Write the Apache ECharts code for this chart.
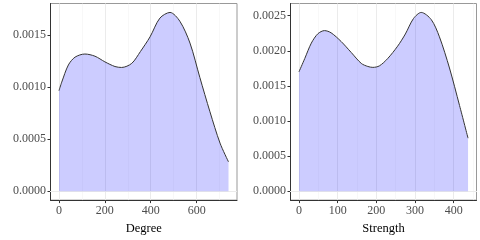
<!DOCTYPE html>
<html>
<head>
<meta charset="utf-8">
<script src="https://cdn.jsdelivr.net/npm/echarts@6/dist/echarts.min.js"></script>
<style>html,body{margin:0;padding:0;background:#fff}#c{width:480px;height:240px}</style>
</head>
<body>
<div id="c"></div>
<script>
// Left panel: Degree density
const degreeX = [0, 12, 41, 70, 113, 157, 200, 244, 273, 317, 355, 397, 440, 484, 527, 571, 614, 658, 702, 739];
const degreeY = [0.000964, 0.001046, 0.001211, 0.001286, 0.001316, 0.001295, 0.001241, 0.001196, 0.001187, 0.001226, 0.00134, 0.001481, 0.001661, 0.001715, 0.00163, 0.001421, 0.001091, 0.000762, 0.000461, 0.000281];
// Right panel: Strength density
const strengthX = [0, 15, 32, 49, 66, 83, 109, 135, 161, 178, 191, 208, 229, 255, 275, 296, 316, 342, 363, 389, 415, 437];
const strengthY = [0.0017, 0.00189, 0.00211, 0.002244, 0.002288, 0.002257, 0.002133, 0.001977, 0.001821, 0.001777, 0.001764, 0.001786, 0.001888, 0.002066, 0.00224, 0.00246, 0.002547, 0.002444, 0.0022, 0.001755, 0.001221, 0.000755];
// Tick labels
const degreeXTicks = [0, 200, 400, 600];
const degreeXMinor = [100, 300, 500, 700];
const degreeYTicks = [0, 0.0005, 0.0010, 0.0015];
const degreeYMinor = [0.00025, 0.00075, 0.00125, 0.00175];
const strengthXTicks = [0, 100, 200, 300, 400];
const strengthXMinor = [50, 150, 250, 350, 450];
const strengthYTicks = [0, 0.0005, 0.0010, 0.0015, 0.0020, 0.0025];
const strengthYMinor = [0.00025, 0.00075, 0.00125, 0.00175, 0.00225];
const xTitles = ['Degree', 'Strength'];

const FONT = 'Liberation Serif';
const chart = echarts.init(document.getElementById('c'), null, {renderer: 'canvas'});

function expand(arr, f) {
  const mn = Math.min(...arr), mx = Math.max(...arr);
  const pad = (mx - mn) * f;
  return [mn - pad, mx + pad];
}
const panels = [
  {x: degreeX, y: degreeY, xt: degreeXTicks, xm: degreeXMinor, yt: degreeYTicks, ym: degreeYMinor, yr: [0, Math.max(...degreeY)]},
  {x: strengthX, y: strengthY, xt: strengthXTicks, xm: strengthXMinor, yt: strengthYTicks, ym: strengthYMinor, yr: [0, Math.max(...strengthY)]}
];
const grids = [
  {left: 50.5, top: 3.5, width: 186.5, height: 209},
  {left: 290.5, top: 3.5, width: 186, height: 209}
];
const xAxes = [], yAxes = [], series = [];
panels.forEach((p, i) => {
  const xr = expand(p.x, 0.05);
  const yr = expand(p.yr, 0.05);
  xAxes.push({
    type: 'value', gridIndex: i, min: xr[0], max: xr[1],
    name: xTitles[i], nameLocation: 'middle', nameGap: 12,
    nameTextStyle: {fontFamily: FONT, fontSize: 12.5, color: '#000'},
    axisLine: {show: true, onZero: false, lineStyle: {color: '#333', width: 1}},
    axisTick: {show: true, length: 3, customValues: p.xt, lineStyle: {color: '#333'}},
    axisLabel: {customValues: p.xt, margin: 5, fontFamily: FONT, fontSize: 12, color: '#4d4d4d'},
    splitLine: {show: false}
  });
  yAxes.push({
    type: 'value', gridIndex: i, min: yr[0], max: yr[1],
    axisLine: {show: true, onZero: false, lineStyle: {color: '#333', width: 1}},
    axisTick: {show: true, length: 3, customValues: p.yt, lineStyle: {color: '#333'}},
    axisLabel: {customValues: p.yt, margin: 4.5, fontFamily: FONT, fontSize: 12, color: '#4d4d4d',
      formatter: v => v.toFixed(4)},
    splitLine: {show: false}
  });
  const gridLines = [];
  p.xm.forEach(v => gridLines.push({xAxis: v, lineStyle: {color: '#f3f3f3', width: 0.6}}));
  p.ym.forEach(v => gridLines.push({yAxis: v, lineStyle: {color: '#f3f3f3', width: 0.6}}));
  p.xt.forEach(v => gridLines.push({xAxis: v, lineStyle: {color: '#ebebeb', width: 1}}));
  p.yt.forEach(v => gridLines.push({yAxis: v, lineStyle: {color: '#ebebeb', width: 1}}));
  series.push({
    type: 'line', xAxisIndex: i, yAxisIndex: i, data: [], z: 1, silent: true,
    markLine: {silent: true, z: 1, symbol: 'none', animation: false, label: {show: false},
      lineStyle: {type: 'solid'}, emphasis: {disabled: true}, data: gridLines}
  });
  series.push({
    type: 'line', xAxisIndex: i, yAxisIndex: i, z: 10,
    data: p.x.map((v, k) => [v, p.y[k]]),
    smooth: 0.3, showSymbol: false, symbol: 'none',
    lineStyle: {color: '#333', width: 1},
    areaStyle: {color: 'rgba(0,0,255,0.2)', opacity: 1, origin: 0},
    animation: false
  });
});
chart.setOption({
  animation: false,
  grid: grids.map(g => Object.assign({show: true, borderColor: '#999', borderWidth: 1, backgroundColor: 'transparent'}, g)),
  xAxis: xAxes, yAxis: yAxes, series
});
</script>
</body>
</html>
